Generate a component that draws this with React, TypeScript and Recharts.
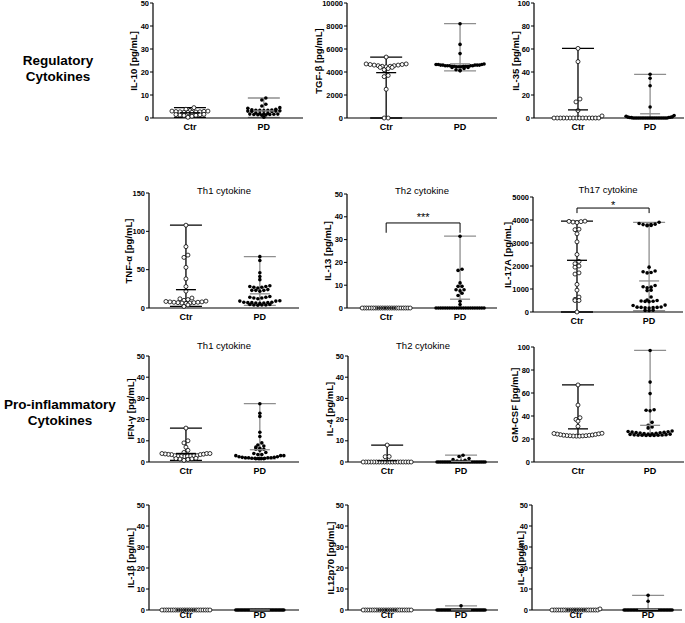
import React from "react";
import {
  ScatterChart,
  Scatter,
  XAxis,
  YAxis,
  ErrorBar,
  ReferenceLine,
  ReferenceDot,
} from "recharts";

const FONT = "'Liberation Sans', Arial, Helvetica, sans-serif";
const GROUPS = ["Ctr", "PD"];
const PD_GREY = "#8e8e8e";

// y ticks
const ticks50 = [0, 10, 20, 30, 40, 50];
const ticks100 = [0, 20, 40, 60, 80, 100];
const ticks150 = [0, 50, 100, 150];
const ticks5000 = [0, 1000, 2000, 3000, 4000, 5000];
const ticks10000 = [0, 2000, 4000, 6000, 8000, 10000];

// regulatory cytokines
const il10Ctr = [4.5, 3.8, 3.2, 3.0, 3.0, 2.9, 2.8, 2.7, 2.7, 2.6, 2.5, 2.5, 2.4, 1.6, 1.5, 1.4, 1.3, 1.2, 1.1, 0.8, 0.3];
const il10Pd = [8.7, 7.8, 6.0, 5.2, 4.5, 4.2, 3.8, 3.6, 3.5, 3.4, 3.3, 3.3, 3.2, 3.1, 3.0, 3.0, 2.9, 2.8, 2.2, 2.0, 1.9, 1.8, 1.7, 1.7, 1.6, 1.5, 1.5, 1.4, 1.3, 1.2, 0.3];
const tgfCtr = [5300, 4700, 4700, 4650, 4650, 4600, 4600, 4550, 4550, 4500, 4500, 4450, 4400, 4400, 4300, 4200, 3700, 3600, 2500, 0, 0];
const tgfPd = [8200, 6400, 5600, 4700, 4650, 4650, 4650, 4600, 4600, 4600, 4600, 4600, 4550, 4550, 4550, 4550, 4550, 4500, 4500, 4500, 4500, 4500, 4450, 4450, 4450, 4400, 4400, 4300, 4200, 4150, 4100];
const il35Ctr = [60.5, 49, 16.5, 14, 6.5, 1.8, 0, 0, 0, 0, 0, 0, 0, 0, 0, 0, 0, 0, 0, 0, 0];
const il35Pd = [38, 34.5, 28, 9.5, 2.2, 1.5, 1.0, 0.8, 0.6, 0.5, 0.4, 0.3, 0, 0, 0, 0, 0, 0, 0, 0, 0, 0, 0, 0, 0, 0, 0, 0, 0, 0, 0, 0];

// Th cytokines
const tnfCtr = [108, 80, 69, 66, 53, 38, 28, 22, 13, 12, 11, 10, 9, 8.5, 8, 8, 7.5, 7.5, 7, 7, 6.5, 6.5, 6, 4, 2];
const tnfPd = [67, 62, 46, 41, 37, 29, 28, 28, 27, 27, 26, 24, 23, 23, 23, 22, 15, 14, 14, 13, 13, 12, 9.5, 9, 9, 7.5, 7.5, 7, 7, 7, 6.5, 6.5, 6, 4.5, 4.5, 4, 4, 4, 3.5];
const il13Ctr = [0, 0, 0, 0, 0, 0, 0, 0, 0, 0, 0, 0, 0, 0, 0, 0, 0, 0, 0, 0, 0, 0];
const il13Pd = [31.5, 17, 16.5, 11, 9.5, 9.5, 8, 8, 7.5, 6.5, 5.5, 3, 1.5, 0, 0, 0, 0, 0, 0, 0, 0, 0, 0, 0, 0, 0, 0, 0, 0, 0, 0, 0, 0, 0, 0];
const il17Ctr = [3950, 3940, 3930, 3910, 3890, 3600, 3580, 3400, 3050, 2500, 2200, 2100, 2000, 1950, 1700, 1650, 1200, 950, 650, 550, 500, 500, 0];
const il17Pd = [3900, 3850, 3820, 3800, 3800, 3780, 3760, 3750, 1950, 1780, 1750, 1720, 1700, 1150, 1100, 1080, 1050, 950, 930, 650, 520, 500, 480, 470, 460, 450, 300, 280, 220, 210, 200, 200, 190, 180, 170, 80, 70, 60];

// pro-inflammatory
const ifnCtr = [16, 10, 9, 7, 5.5, 4.5, 4, 4, 4, 3.8, 3.7, 3.6, 3.5, 3.5, 3, 3, 2.9, 2.8, 2.8, 2.7, 2.7, 2.6, 1.8, 1.6, 1.5, 1.4, 1.2, 0.8];
const ifnPd = [27.5, 23, 21.5, 14, 12, 9, 8, 7.5, 7, 6.5, 6, 6, 5.5, 4.5, 4, 3.5, 3.5, 3, 3, 3, 2.5, 2.5, 2.2, 2.2, 2, 2, 2, 2, 1.8, 1.8, 1.8, 1.6, 1.6, 1.5, 1.5, 1.5];
const il4Ctr = [8, 2.6, 2.5, 0, 0, 0, 0, 0, 0, 0, 0, 0, 0, 0, 0, 0, 0, 0, 0, 0, 0, 0];
const il4Pd = [3.2, 2.6, 1.6, 1.1, 0.8, 0.5, 0.3, 0, 0, 0, 0, 0, 0, 0, 0, 0, 0, 0, 0, 0, 0, 0, 0, 0, 0, 0, 0, 0, 0, 0, 0, 0, 0, 0, 0];
const gmCtr = [67, 49.5, 38.5, 37, 35.5, 31, 25, 24.8, 24.5, 24.3, 24, 23.8, 23.5, 23.3, 23.2, 23, 22.9, 22.8, 22.7, 22.6, 22.5, 22.5];
const gmPd = [97, 69.5, 59.5, 45.5, 45, 44.5, 34.5, 32, 30.5, 29.5, 27, 26.5, 26.3, 26, 25.8, 25.6, 25.4, 25.2, 25, 24.8, 24.6, 24.4, 24.2, 24, 23.8, 23.6, 23.5, 23.4, 23.3, 23.2, 23.1, 23, 23];
const il1bCtr = [0, 0, 0, 0, 0, 0, 0, 0, 0, 0, 0, 0, 0, 0, 0, 0, 0, 0, 0, 0, 0, 0];
const il1bPd = [0, 0, 0, 0, 0, 0, 0, 0, 0, 0, 0, 0, 0, 0, 0, 0, 0, 0, 0, 0, 0, 0, 0, 0, 0, 0, 0, 0, 0, 0, 0, 0, 0, 0, 0];
const il12Ctr = [0, 0, 0, 0, 0, 0, 0, 0, 0, 0, 0, 0, 0, 0, 0, 0, 0, 0, 0, 0, 0, 0];
const il12Pd = [2, 0, 0, 0, 0, 0, 0, 0, 0, 0, 0, 0, 0, 0, 0, 0, 0, 0, 0, 0, 0, 0, 0, 0, 0, 0, 0, 0, 0, 0, 0, 0, 0, 0, 0];
const il6Ctr = [0.5, 0, 0, 0, 0, 0, 0, 0, 0, 0, 0, 0, 0, 0, 0, 0, 0, 0, 0, 0, 0, 0];
const il6Pd = [7, 4.2, 0, 0, 0, 0, 0, 0, 0, 0, 0, 0, 0, 0, 0, 0, 0, 0, 0, 0, 0, 0, 0, 0, 0, 0, 0, 0, 0, 0, 0, 0, 0, 0, 0];

// significance brackets: bar level, foot level, text level, text
const il13Sig = { top: 37.3, foot: 33, textY: 40, text: "***" };
const il17Sig = { top: 4520, foot: 4300, textY: 4640, text: "*" };

const PLOT_W = 150;
const COL_DOMAIN: [number, number][] = [
  [0.5, 2.53],
  [0.47, 2.5],
  [0.39, 2.47],
];

type Panel = {
  label: string;
  ctr: number[];
  pd: number[];
  ticks: number[];
  axisX: number;
  top: number;
  bottom: number;
  col: number;
  labelDx: number;
  title?: string;
  titleY?: number;
  lastRow?: boolean;
  sig?: { top: number; foot: number; textY: number; text: string };
};

const panels: Panel[] = [
  { label: "IL-10 [pg/mL]", ctr: il10Ctr, pd: il10Pd, ticks: ticks50, axisX: 153, top: 3, bottom: 118, col: 0, labelDx: 20 },
  { label: "TGF-β [pg/mL]", ctr: tgfCtr, pd: tgfPd, ticks: ticks10000, axisX: 347, top: 3, bottom: 118, col: 1, labelDx: 29 },
  { label: "IL-35 [pg/mL]", ctr: il35Ctr, pd: il35Pd, ticks: ticks100, axisX: 534, top: 3, bottom: 118, col: 2, labelDx: 19 },
  { label: "TNF-α [pg/mL]", ctr: tnfCtr, pd: tnfPd, ticks: ticks150, axisX: 149, top: 193, bottom: 308, col: 0, labelDx: 21, title: "Th1 cytokine", titleY: 190 },
  { label: "IL-13 [pg/mL]", ctr: il13Ctr, pd: il13Pd, ticks: ticks50, axisX: 347, top: 194, bottom: 308, col: 1, labelDx: 20, title: "Th2 cytokine", titleY: 190, sig: il13Sig },
  { label: "IL-17A [pg/mL]", ctr: il17Ctr, pd: il17Pd, ticks: ticks5000, axisX: 533, top: 197, bottom: 312, col: 2, labelDx: 26, title: "Th17 cytokine", titleY: 189, sig: il17Sig },
  { label: "IFN-γ [pg/mL]", ctr: ifnCtr, pd: ifnPd, ticks: ticks50, axisX: 149, top: 356, bottom: 462, col: 0, labelDx: 19, title: "Th1 cytokine", titleY: 345 },
  { label: "IL-4 [pg/mL]", ctr: il4Ctr, pd: il4Pd, ticks: ticks50, axisX: 348, top: 356, bottom: 462, col: 1, labelDx: 19, title: "Th2 cytokine", titleY: 345 },
  { label: "GM-CSF [pg/mL]", ctr: gmCtr, pd: gmPd, ticks: ticks100, axisX: 534, top: 347, bottom: 462, col: 2, labelDx: 20 },
  { label: "IL-1β [pg/mL]", ctr: il1bCtr, pd: il1bPd, ticks: ticks50, axisX: 149, top: 505, bottom: 610, col: 0, labelDx: 19, lastRow: true },
  { label: "IL12p70 [pg/mL]", ctr: il12Ctr, pd: il12Pd, ticks: ticks50, axisX: 348, top: 505, bottom: 610, col: 1, labelDx: 18, lastRow: true },
  { label: "IL-6 [pg/mL]", ctr: il6Ctr, pd: il6Pd, ticks: ticks50, axisX: 532, top: 505, bottom: 610, col: 2, labelDx: 12, lastRow: true },
];

// simple beeswarm: points whose pixels are close form one row, spread sideways,
// larger values pushed to the row edges
function swarm(values: number[], center: number, yPx: number, xPerPx: number) {
  const sorted = [...values].sort((a, b) => b - a);
  const rows: number[][] = [];
  for (const v of sorted) {
    const row = rows[rows.length - 1];
    if (row && (row[0] - v) * yPx < 3) row.push(v);
    else rows.push([v]);
  }
  const pts: { x: number; y: number }[] = [];
  rows.forEach((row) => {
    const k = row.length;
    const step = k > 1 ? Math.min(4, 48 / (k - 1)) : 0;
    const slots = row.map((_, i) => (i - (k - 1) / 2) * step);
    slots.sort((a, b) => Math.abs(a) - Math.abs(b));
    const asc = [...row].sort((a, b) => a - b);
    asc.forEach((v, i) => pts.push({ x: center + slots[i] * xPerPx, y: v }));
  });
  return pts;
}

function summary(values: number[], x: number) {
  const mean = values.reduce((s, v) => s + v, 0) / values.length;
  const min = Math.min(...values);
  const max = Math.max(...values);
  return [{ x, y: mean, err: [mean - min, max - mean] }];
}

const openDot = (p: any) => (
  <circle cx={p.cx} cy={p.cy} r={2} fill="#fff" stroke="#000" strokeWidth={0.8} />
);
const fullDot = (p: any) => <circle cx={p.cx} cy={p.cy} r={1.8} fill="#000" />;
const meanLine = (color: string) => (p: any) => (
  <line x1={p.cx - 10} x2={p.cx + 10} y1={p.cy} y2={p.cy} stroke={color} strokeWidth={1.3} />
);

function CytokinePanel({ p }: { p: Panel }) {
  const yAxisW = 40;
  const mTop = 8;
  const xAxisH = p.lastRow ? 13 : 18;
  const plotH = p.bottom - p.top;
  const yMax = p.ticks[p.ticks.length - 1];
  const domain = COL_DOMAIN[p.col];
  const xPerPx = (domain[1] - domain[0]) / PLOT_W;
  const yPx = plotH / yMax;
  const ctrPts = swarm(p.ctr, 1, yPx, xPerPx);
  const pdPts = swarm(p.pd, 2, yPx, xPerPx);
  const tickStyle = { fontSize: 7.5, fontWeight: 700, fill: "#000", fontFamily: FONT };

  return (
    <div style={{ position: "absolute", left: p.axisX - yAxisW, top: p.top - mTop }}>
      <ScatterChart
        width={yAxisW + PLOT_W + 1}
        height={mTop + plotH + xAxisH}
        margin={{ top: mTop, right: 1, left: 0, bottom: 0 }}
      >
        <XAxis
          type="number"
          dataKey="x"
          domain={domain}
          ticks={[1, 2]}
          tickFormatter={(v: number) => GROUPS[v - 1]}
          tickLine={false}
          tickSize={p.lastRow ? 0 : 2}
          tickMargin={p.lastRow ? 2 : 4}
          height={xAxisH}
          axisLine={{ stroke: "#000", strokeWidth: 1.2 }}
          tick={{ fontSize: 9, fontWeight: 700, fill: "#000", fontFamily: FONT }}
        />
        <YAxis
          type="number"
          dataKey="y"
          domain={[0, yMax]}
          ticks={p.ticks}
          interval={0}
          width={yAxisW}
          tickSize={3}
          tickMargin={1}
          axisLine={{ stroke: "#000", strokeWidth: 1.2 }}
          tickLine={{ stroke: "#000", strokeWidth: 1 }}
          tick={tickStyle}
        />
        <Scatter data={ctrPts} shape={openDot} isAnimationActive={false} />
        <Scatter data={pdPts} shape={fullDot} isAnimationActive={false} />
        <Scatter data={summary(p.ctr, 1)} shape={meanLine("#000")} isAnimationActive={false}>
          <ErrorBar dataKey="err" direction="y" width={16} stroke="#000" strokeWidth={1.3} isAnimationActive={false} />
        </Scatter>
        <Scatter data={summary(p.pd, 2)} shape={meanLine(PD_GREY)} isAnimationActive={false}>
          <ErrorBar dataKey="err" direction="y" width={16} stroke={PD_GREY} strokeWidth={1.3} isAnimationActive={false} />
        </Scatter>
        {p.sig && (
          <ReferenceLine segment={[{ x: 1, y: p.sig.top }, { x: 2, y: p.sig.top }]} stroke="#000" strokeWidth={1} />
        )}
        {p.sig && (
          <ReferenceLine segment={[{ x: 1, y: p.sig.top }, { x: 1, y: p.sig.foot }]} stroke="#000" strokeWidth={1} />
        )}
        {p.sig && (
          <ReferenceLine segment={[{ x: 2, y: p.sig.top }, { x: 2, y: p.sig.foot }]} stroke="#000" strokeWidth={1} />
        )}
        {p.sig && (
          <ReferenceDot
            x={1.5}
            y={p.sig.textY}
            r={0}
            fill="none"
            stroke="none"
            label={{ value: p.sig.text, position: "center", fontSize: 11, fill: "#000", fontFamily: FONT }}
          />
        )}
      </ScatterChart>
    </div>
  );
}

function Txt({ x, y, children, style }: any) {
  return (
    <div
      style={{
        position: "absolute",
        left: x,
        top: y,
        transform: "translate(-50%, -50%)",
        whiteSpace: "nowrap",
        fontFamily: FONT,
        color: "#000",
        ...style,
      }}
    >
      {children}
    </div>
  );
}

export default function App() {
  return (
    <div style={{ position: "absolute", left: 0, top: 0, width: 685, height: 623, background: "#fff" }}>
      <Txt x={58} y={69} style={{ fontSize: 13.5, fontWeight: 700, textAlign: "center", lineHeight: "16px" }}>
        Regulatory
        <br />
        Cytokines
      </Txt>
      <Txt x={60} y={413} style={{ fontSize: 13.5, fontWeight: 700, textAlign: "center", lineHeight: "16px" }}>
        Pro-inflammatory
        <br />
        Cytokines
      </Txt>

      {panels.map((p) => (
        <CytokinePanel key={p.label} p={p} />
      ))}

      {panels.map((p) => (
        <Txt
          key={"lab" + p.label}
          x={p.axisX - p.labelDx}
          y={(p.top + p.bottom) / 2}
          style={{ fontSize: 9.5, fontWeight: 700, transform: "translate(-50%, -50%) rotate(-90deg)" }}
        >
          {p.label}
        </Txt>
      ))}

      {panels
        .filter((p) => p.title)
        .map((p) => (
          <Txt key={"t" + p.label} x={p.axisX + PLOT_W / 2} y={p.titleY} style={{ fontSize: 9.5 }}>
            {p.title}
          </Txt>
        ))}
    </div>
  );
}
